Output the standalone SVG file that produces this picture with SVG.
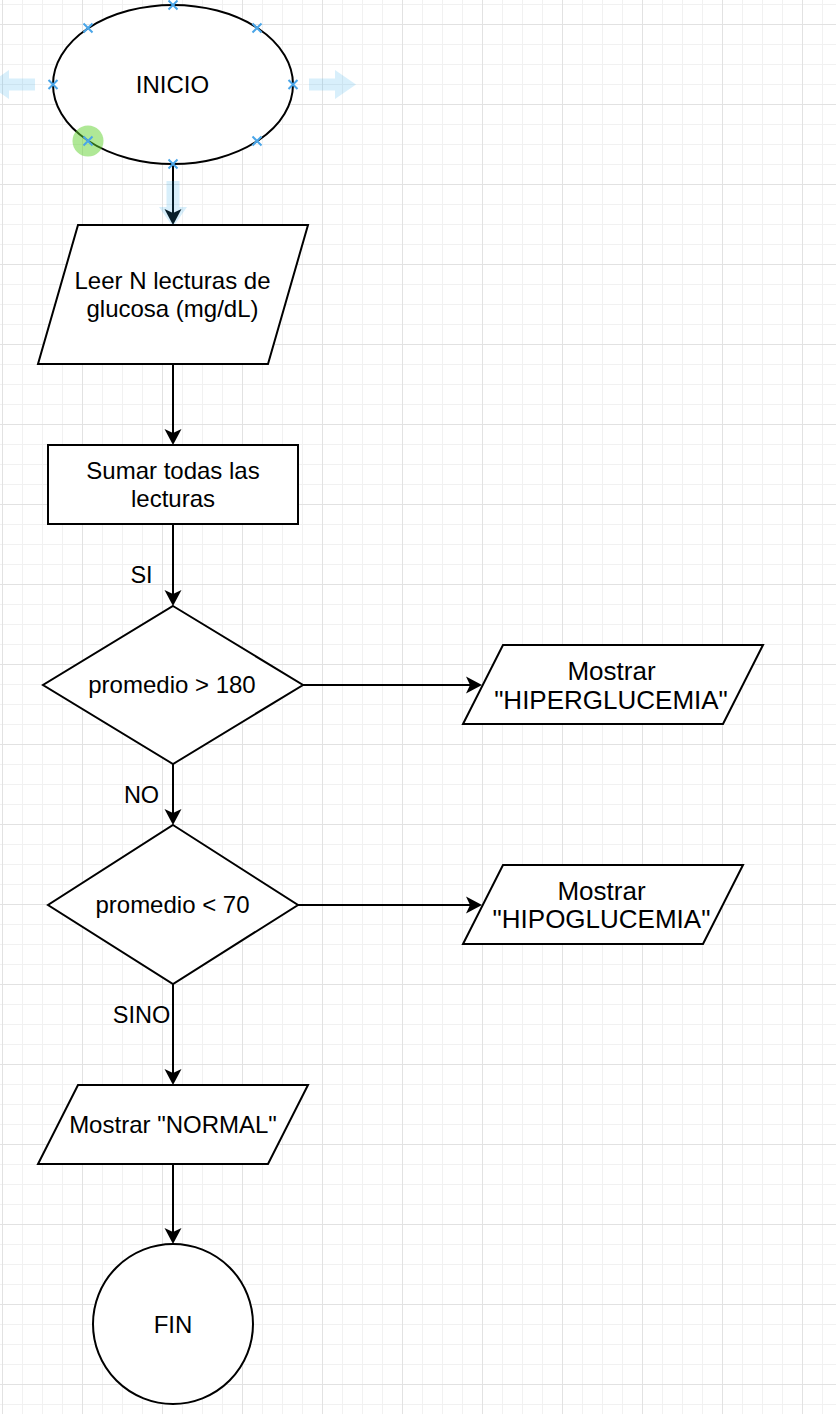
<svg xmlns="http://www.w3.org/2000/svg" width="836" height="1414" viewBox="0 0 836 1414">
  <defs>
    <pattern id="grid" x="2" y="24" width="80" height="80" patternUnits="userSpaceOnUse">
      <path d="M20.5 0V80M40.5 0V80M60.5 0V80M0 20.5H80M0 40.5H80M0 60.5H80" stroke="#f1f1f1" stroke-width="1" fill="none"/>
      <path d="M0.5 0V80M0 0.5H80" stroke="#e2e2e2" stroke-width="1" fill="none"/>
    </pattern>
    <marker id="arrow" markerUnits="userSpaceOnUse" viewBox="-17 -10 18 20" markerWidth="18" markerHeight="20" refX="-3" refY="0" orient="auto">
      <path d="M0,0 L-16,-8.5 L-12,0 L-16,8.5 Z" fill="#000"/>
    </marker>
    <style>
      .shape { fill: #ffffff; stroke: #000000; stroke-width: 2; }
      .edge { fill: none; stroke: #000000; stroke-width: 2; marker-end: url(#arrow); }
      .t { font-family: "Liberation Sans", Arial, sans-serif; font-size: 24px; fill: #000; text-anchor: middle; }
      .big { font-size: 26px; }
      .lbl { font-family: "Liberation Sans", Arial, sans-serif; font-size: 23.5px; fill: #000; text-anchor: middle; }
      .hint { fill: #29a6e8; fill-opacity: 0.18; }
      .xm { stroke: #4ba6e8; stroke-width: 2; fill: none; }
    </style>
  </defs>

  <rect x="0" y="0" width="836" height="1414" fill="#ffffff"/>
  <rect x="0" y="0" width="836" height="1414" fill="url(#grid)"/>

  <!-- hover hint arrows (left/right) -->
  <g id="hover-hints-side">
    <path class="hint" d="M309,78.5 H335 V70 L356,84.5 L335,99 V90.5 H309 Z"/>
    <path class="hint" d="M35,78.5 H9 V70 L-12,84.5 L9,99 V90.5 H35 Z"/>
  </g>

  <g id="connectors">
    <path class="edge" d="M173,164 V222"/>
    <path class="edge" d="M173,364 V442"/>
    <path class="edge" d="M173,524 V603"/>
    <path class="edge" d="M303,685 H479"/>
    <path class="edge" d="M173,764 V822"/>
    <path class="edge" d="M298,905 H479"/>
    <path class="edge" d="M173,984 V1082"/>
    <path class="edge" d="M173,1164 V1241"/>
    <text class="lbl" x="141.5" y="583">SI</text>
    <text class="lbl" x="141.5" y="803">NO</text>
    <text class="lbl" x="141.5" y="1023">SINO</text>
  </g>

  <g id="hover-hint-down">
    <path class="hint" d="M166.5,181 H179.5 V207 H187 L173,227 L159,207 H166.5 Z"/>
  </g>

  <g id="inicio">
    <ellipse class="shape" cx="173" cy="84.5" rx="120" ry="79.5"/>
    <text class="t" x="172.5" y="93">INICIO</text>
  </g>

  <g id="leer">
    <path class="shape" d="M78,225 H308 L268,364 H38 Z"/>
    <text class="t" x="172.5" y="289">Leer N lecturas de</text>
    <text class="t" x="172.5" y="317">glucosa (mg/dL)</text>
  </g>

  <g id="sumar">
    <rect class="shape" x="48" y="445" width="250" height="79"/>
    <text class="t" x="173" y="479">Sumar todas las</text>
    <text class="t" x="173" y="507">lecturas</text>
  </g>

  <g id="decision-hiper">
    <path class="shape" d="M173,606 L303,685 L173,764 L43,685 Z"/>
    <text class="t" x="172" y="693">promedio &gt; 180</text>
  </g>

  <g id="mostrar-hiper">
    <path class="shape" d="M503,645 H763 L723,724 H463 Z"/>
    <text class="t big" x="611.5" y="679.5">Mostrar</text>
    <text class="t big" x="611" y="708.5">"HIPERGLUCEMIA"</text>
  </g>

  <g id="decision-hipo">
    <path class="shape" d="M173,825 L298,905 L173,984 L48,905 Z"/>
    <text class="t" x="172.5" y="913">promedio &lt; 70</text>
  </g>

  <g id="mostrar-hipo">
    <path class="shape" d="M503,865 H743 L703,944 H463 Z"/>
    <text class="t big" x="601.5" y="899.5">Mostrar</text>
    <text class="t big" x="601.5" y="927.5">"HIPOGLUCEMIA"</text>
  </g>

  <g id="mostrar-normal">
    <path class="shape" d="M78,1085 H308 L268,1164 H38 Z"/>
    <text class="t" x="173" y="1133">Mostrar "NORMAL"</text>
  </g>

  <g id="fin">
    <circle class="shape" cx="173" cy="1324" r="80"/>
    <text class="t" x="173" y="1332.5">FIN</text>
  </g>

  <!-- selection handles on INICIO -->
  <g id="selection-handles">
    <circle cx="88" cy="141" r="15.5" fill="#5fd12e" fill-opacity="0.5"/>
    <path class="xm" d="M168.5,0.5 l9,9 m0,-9 l-9,9"/>
    <path class="xm" d="M83.5,23.5 l9,9 m0,-9 l-9,9"/>
    <path class="xm" d="M252.5,23.5 l9,9 m0,-9 l-9,9"/>
    <path class="xm" d="M48.5,80 l9,9 m0,-9 l-9,9"/>
    <path class="xm" d="M288.5,80 l9,9 m0,-9 l-9,9"/>
    <path class="xm" d="M83.5,136.5 l9,9 m0,-9 l-9,9"/>
    <path class="xm" d="M252.5,136.5 l9,9 m0,-9 l-9,9"/>
    <path class="xm" d="M168.5,159.5 l9,9 m0,-9 l-9,9"/>
  </g>
</svg>
